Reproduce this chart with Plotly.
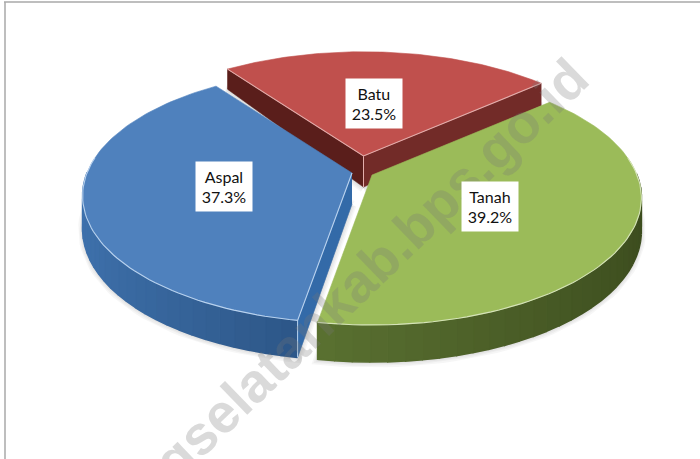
import numpy as np
import plotly.graph_objects as go

# ---- data ----
categories = ["Batu", "Tanah", "Aspal"]
values = [23.5, 39.2, 37.3]

# ---- style / geometry ----
top_colors = ["#C0504D", "#9BBB59", "#4F81BD"]
rim_left = ["#5c1f1c", "#5a7131", "#3f72ad"]
rim_right = ["#722b28", "#3c4c1e", "#2d5788"]
edge_colors = ["#e3aeac", "#d5e3b8", "#b9d2ee"]
apex = {"Batu": (363.5, 156), "Tanah": (372, 175), "Aspal": (352, 173)}
label_pos = {"Batu": (374, 103.5), "Tanah": (490, 206.5), "Aspal": (224, 186.5)}
START = -36.0
R, RY, P = 265, 123, 0.18

W, H = 700, 459


def project(name, theta):
    t = np.radians(theta)
    u, v = np.sin(t), -np.cos(t)
    s = 1 / (1 - P * v)
    ax, ay = apex[name]
    return ax + R * u * s, ay + RY * v * s


def depth(theta):
    v = -np.cos(np.radians(theta))
    return 31 + 10.2 * v - 4.17 * v ** 2


def mix(c1, c2, f):
    a = [int(c1[i:i + 2], 16) for i in (1, 3, 5)]
    b = [int(c2[i:i + 2], 16) for i in (1, 3, 5)]
    return "rgb(%d,%d,%d)" % tuple(round(x + (y - x) * f) for x, y in zip(a, b))


def poly(xs, ys, color, lw=0.6, line=None):
    return go.Scatter(x=list(xs), y=list(ys), mode="lines", fill="toself", fillcolor=color,
                      line=dict(color=line or color, width=lw), hoverinfo="skip", showlegend=False)


def stroke(xs, ys, color, lw=1.1):
    return go.Scatter(x=list(xs), y=list(ys), mode="lines", line=dict(color=color, width=lw),
                      hoverinfo="skip", showlegend=False)


spans = [v / sum(values) * 360 for v in values]
ranges = {}
a = START
for c, sp in zip(categories, spans):
    ranges[c] = (a, a + sp)
    a += sp

fig = go.Figure()

# soft shadows below each slice
for c in categories:
    t0, t1 = ranges[c]
    th = np.linspace(t0, t1, 70)
    px, py = project(c, th)
    d = depth(th)
    ax, ay = apex[c]
    xs = np.r_[ax, px, ax]
    ys = np.r_[ay + 31, py + d, ay + 31]
    for lw in (9, 6, 3):
        fig.add_trace(poly(xs, ys + 1, "rgba(0,0,0,0.035)", lw=lw, line="rgba(0,0,0,0.035)"))

for i, c in enumerate(categories):
    t0, t1 = ranges[c]
    ax, ay = apex[c]
    # rim wall, built from short strips so the shade runs across it
    edges = np.linspace(t0, t1, 46)
    for e0, e1 in zip(edges[:-1], edges[1:]):
        mid = (e0 + e1) / 2
        if -np.cos(np.radians(mid)) < 0.0:
            continue
        th = np.linspace(e0, e1, 3)
        px, py = project(c, th)
        d = depth(th)
        f = (np.sin(np.radians(mid)) + 1) / 2
        if c == "Aspal":
            f = np.clip((np.sin(np.radians(mid)) + 1) / 0.82, 0, 1)
        if c == "Tanah":
            f = np.clip((np.sin(np.radians(mid)) + 0.19) / 1.19, 0, 1)
        col = mix(rim_left[i], rim_right[i], f)
        fig.add_trace(poly(np.r_[px, px[::-1]], np.r_[py, (py + d)[::-1]], col, lw=1.6))
    # radial walls that face the viewer
    x0, y0 = project(c, t0)
    x1, y1 = project(c, t1)
    if c == "Batu":
        fig.add_trace(poly([ax, x0, x0, ax], [ay, y0, y0 + depth(t0), ay + 31], "#5a1e1b"))
        fig.add_trace(poly([ax, x1, x1, ax], [ay, y1, y1 + depth(t1), ay + 31], "#722b28"))
        fig.add_trace(stroke([ax, ax], [ay, ay + 31], edge_colors[i], 1))
    if c == "Aspal":
        fig.add_trace(poly([ax, x0, x0, ax], [ay, y0, y0 + depth(t0), ay + 31], "#336aa8"))
        fig.add_trace(stroke([x0, x0], [y0, y0 + depth(t0)], edge_colors[i], 1))
    # top face
    th = np.linspace(t0, t1, 90)
    px, py = project(c, th)
    fig.add_trace(poly(np.r_[ax, px, ax], np.r_[ay, py, ay], top_colors[i]))
    # light bevel on the edges turned to the viewer
    if c == "Batu":
        fig.add_trace(stroke([x0, ax, x1], [y0, ay, y1], edge_colors[i]))
    elif c == "Aspal":
        front = th[(np.cos(np.radians(th)) < 0.15)]
        fx, fy = project(c, front)
        fig.add_trace(stroke(np.r_[ax, fx], np.r_[ay, fy], edge_colors[i]))
    else:
        front = th[(np.cos(np.radians(th)) < 0.15)]
        fx, fy = project(c, front)
        fig.add_trace(stroke(fx, fy, edge_colors[i]))

annotations = [dict(x=371, y=269, xref="x", yref="y", text="<b>gselatankab.bps.go.id</b>",
                    textangle=-44, showarrow=False, xanchor="center", yanchor="middle",
                    font=dict(family="Liberation Sans", size=55, color="rgba(120,120,120,0.27)"))]
for c, v in zip(categories, values):
    lx, ly = label_pos[c]
    annotations.append(dict(x=lx, y=ly, xref="x", yref="y", text=f"{c}<br>{v}%", showarrow=False,
                            bgcolor="#ffffff", width=56, height=49, borderpad=0, align="center",
                            xanchor="center", yanchor="middle",
                            font=dict(family="Lato", size=16, color="#111111")))

shapes = [
    dict(type="line", x0=4, x1=W, y0=2, y1=2, xref="x", yref="y", line=dict(color="#a8a8a8", width=1.5)),
    dict(type="line", x0=5, x1=5, y0=2, y1=H, xref="x", yref="y", line=dict(color="#a8a8a8", width=1.5)),
]

fig.update_layout(
    width=W, height=H, margin=dict(l=0, r=0, t=0, b=0),
    paper_bgcolor="#ffffff", plot_bgcolor="#ffffff", showlegend=False,
    xaxis=dict(range=[0, W], visible=False, fixedrange=True),
    yaxis=dict(range=[H, 0], visible=False, fixedrange=True),
    annotations=annotations, shapes=shapes,
)
fig.write_html("out.html", config={"displayModeBar": False},
               post_script="document.body.style.margin='0';document.documentElement.style.overflow='hidden';")
